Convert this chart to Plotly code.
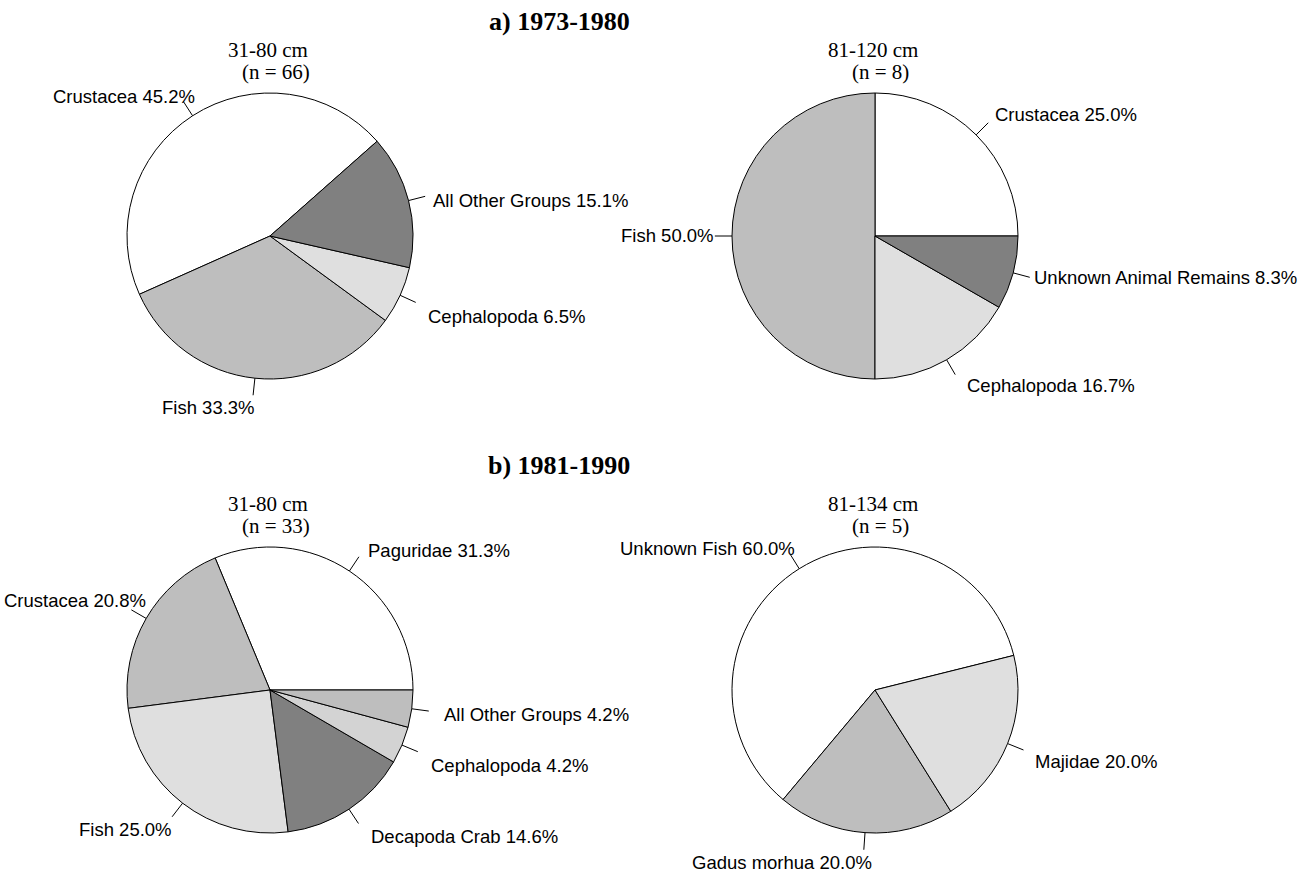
import math
import plotly.graph_objects as go

W, H = 1299, 873

# Prey composition (% of items) by predator length class and period
p1_labels = ["Crustacea", "Fish", "Cephalopoda", "All Other Groups"]
p1_values = [45.2, 33.3, 6.5, 15.1]
p2_labels = ["Crustacea", "Fish", "Cephalopoda", "Unknown Animal Remains"]
p2_values = [25.0, 50.0, 16.7, 8.3]
p3_labels = ["Paguridae", "Crustacea", "Fish", "Decapoda Crab", "Cephalopoda", "All Other Groups"]
p3_values = [31.3, 20.8, 25.0, 14.6, 4.2, 4.2]
p4_labels = ["Unknown Fish", "Gadus morhua", "Majidae"]
p4_values = [60.0, 20.0, 20.0]

size_classes = ["31-80 cm", "81-120 cm", "31-80 cm", "81-134 cm"]
sample_sizes = [66, 8, 33, 5]
period_titles = ["a) 1973-1980", "b) 1981-1990"]

# ---- styling / layout ----
WHITE, G75, G87, G83, G50 = "#FFFFFF", "#BEBEBE", "#DFDFDF", "#D3D3D3", "#808080"
pie_colors = [
    [WHITE, G75, G87, G50],
    [WHITE, G75, G87, G50],
    [WHITE, G75, G87, G50, G83, G75],
    [WHITE, G75, G87],
]
centers = [(270, 236), (875, 236), (270, 690), (875, 690)]
RADIUS = 143
start_angles = [41.5, 0.0, 0.0, 14.0]  # degrees, counter-clockwise from 3 o'clock
# per-label text nudges in pixels: (right, down)
label_nudges = [
    [(14, -5), (4, 12), (10, 14), (6, 4)],
    [(5, -8), (1, 0), (10, 11), (2, 0)],
    [(7, -6), (17, -9), (2, 13), (11, 13), (11, 14), (13, 3)],
    [(7, -6), (10, 13), (10, 12)],
]
LINE_OUT = 1.12

SANS = "Liberation Sans, Arial, Helvetica, sans-serif"
SERIF = "Liberation Serif, Times New Roman, Times, serif"

pies = [
    (p1_labels, p1_values),
    (p2_labels, p2_values),
    (p3_labels, p3_values),
    (p4_labels, p4_values),
]


def px(x):
    return x / W


def py(y):
    return 1 - y / H


fig = go.Figure()
shapes = []
annotations = []

for k, (labels, values) in enumerate(pies):
    cx, cy = centers[k]
    total = sum(values)
    shares = [v / total * 360.0 for v in values]
    s = start_angles[k]
    # counter-clockwise pie: first slice begins at angle s
    rotation = 90.0 - s - shares[0]
    rotation = (rotation + 180.0) % 360.0 - 180.0
    fig.add_trace(go.Pie(
        labels=labels,
        values=values,
        sort=False,
        direction="counterclockwise",
        rotation=rotation,
        marker=dict(colors=pie_colors[k], line=dict(color="black", width=1)),
        textinfo="none",
        hoverinfo="label+value",
        showlegend=False,
        domain=dict(
            x=[px(cx - RADIUS), px(cx + RADIUS)],
            y=[py(cy + RADIUS), py(cy - RADIUS)],
        ),
    ))

    a = s
    for i, (lab, val) in enumerate(zip(labels, values)):
        mid = math.radians(a + shares[i] / 2.0)
        a += shares[i]
        c, sn = math.cos(mid), math.sin(mid)
        x0, y0 = cx + RADIUS * c, cy - RADIUS * sn
        x1, y1 = cx + LINE_OUT * RADIUS * c, cy - LINE_OUT * RADIUS * sn
        shapes.append(dict(type="line", xref="paper", yref="paper",
                           x0=px(x0), y0=py(y0), x1=px(x1), y1=py(y1),
                           line=dict(color="black", width=1)))
        dx, dy = label_nudges[k][i]
        annotations.append(dict(
            text=f"{lab} {val:.1f}%",
            xref="paper", yref="paper", x=px(x1), y=py(y1),
            xanchor="left" if c > 0 else "right", yanchor="middle",
            xshift=dx, yshift=-dy, showarrow=False,
            font=dict(family=SANS, size=18.5, color="black"),
        ))

    # size class and sample size above each pie
    annotations.append(dict(
        text=size_classes[k], xref="paper", yref="paper",
        x=px(cx), y=py(cy - 186), xshift=-2, xanchor="center", yanchor="middle",
        showarrow=False, font=dict(family=SERIF, size=21, color="black"),
    ))
    annotations.append(dict(
        text=f"(n = {sample_sizes[k]})", xref="paper", yref="paper",
        x=px(cx), y=py(cy - 164), xshift=5.5, xanchor="center", yanchor="middle",
        showarrow=False, font=dict(family=SERIF, size=21, color="black"),
    ))

for j, title in enumerate(period_titles):
    annotations.append(dict(
        text=f"<b>{title}</b>", xref="paper", yref="paper",
        x=px(559), y=py(21 + 444 * j), xanchor="center", yanchor="middle",
        showarrow=False, font=dict(family=SERIF, size=26, color="black"),
    ))

fig.update_layout(
    width=W, height=H, autosize=False,
    margin=dict(l=0, r=0, t=0, b=0),
    paper_bgcolor="white", plot_bgcolor="white",
    shapes=shapes, annotations=annotations,
)

fig.write_html("out.html")
